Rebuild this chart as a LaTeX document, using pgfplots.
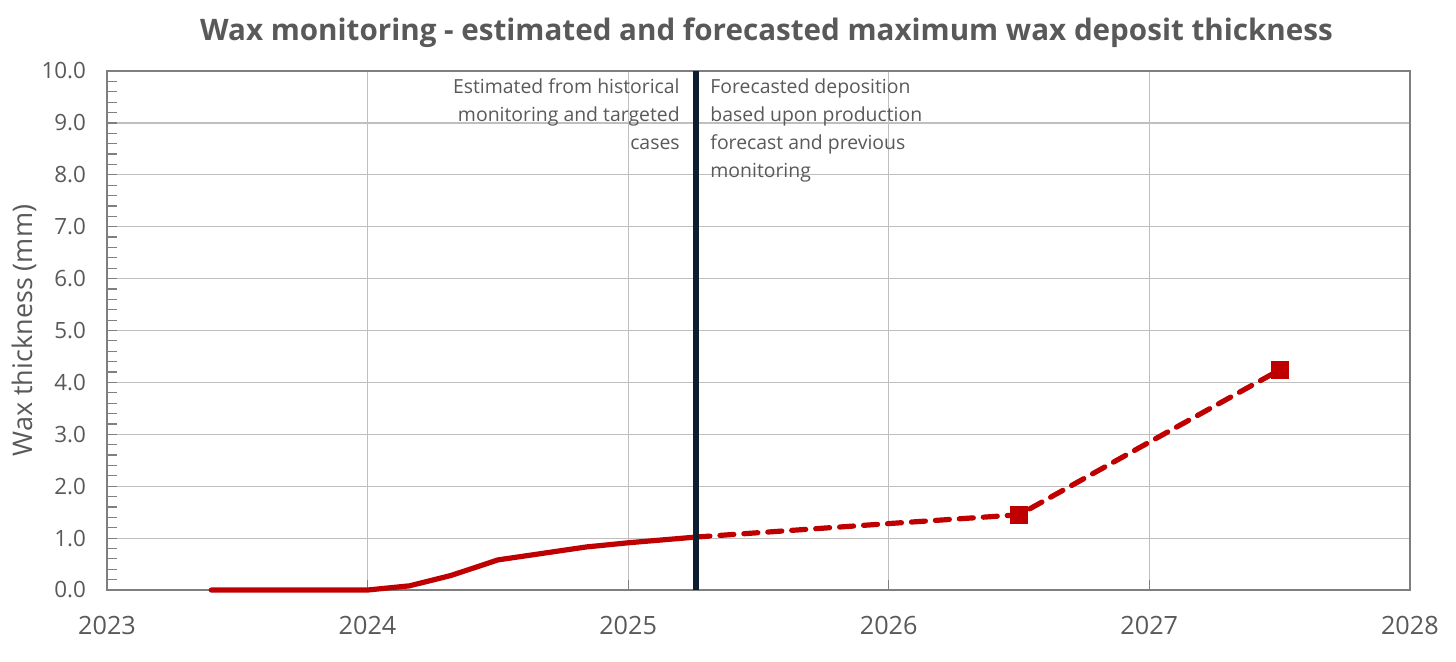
\documentclass[border=0pt]{standalone}
\usepackage{pgfplots}
\pgfplotsset{compat=1.18}
\usepackage{fontspec}
\setmainfont{Open Sans}
\definecolor{txtgray}{HTML}{595959}
\definecolor{gridgray}{HTML}{BFBFBF}
\definecolor{axgray}{HTML}{7F7F7F}
\definecolor{wred}{HTML}{C00000}
\definecolor{navy}{HTML}{0C1E2F}

\begin{document}
\begin{tikzpicture}
\useasboundingbox (0,0) rectangle (728pt,330.5pt);
\begin{axis}[
  at={(53.5pt,35.5pt)}, anchor=south west,
  scale only axis,
  width=651.5pt, height=259.5pt,
  xmin=2023, xmax=2028,
  ymin=0, ymax=10,
  xtick={2023,2024,...,2028},
  ytick={0,1,...,10},
  minor x tick num=4,
  minor y tick num=4,
  xmajorgrids, ymajorgrids,
  major grid style={gridgray, line width=0.6pt},
  axis line style={axgray, line width=0.7pt},
  tick style={axgray, line width=0.6pt},
  major tick length=5pt,
  minor tick length=5pt,
  tick align=inside,
  xtick pos=bottom, ytick pos=left,
  /pgf/number format/assume math mode=true,
  xticklabel style={/pgf/number format/set thousands separator={}, font=\fontsize{12.6}{14}\selectfont, text=txtgray, yshift=-9.5pt},
  yticklabel style={/pgf/number format/fixed, /pgf/number format/fixed zerofill, /pgf/number format/precision=1, font=\fontsize{11.2}{13}\selectfont, text=txtgray, xshift=-7pt},
  clip=false,
]
% estimated (historical)
\addplot[wred, line width=2.6pt, line join=round, line cap=round] coordinates {
  (2023.40,0.00) (2023.70,0.00) (2024.00,0.00) (2024.16,0.08) (2024.32,0.28)
  (2024.50,0.58) (2024.84,0.83) (2025.00,0.91) (2025.26,1.02)
};
% forecast
\addplot[wred, line width=2.6pt, line cap=round, dash pattern=on 7pt off 5pt] coordinates {
  (2025.26,1.02) (2026.00,1.28) (2026.50,1.45) (2027.00,2.85) (2027.50,4.24)
};
\addplot[only marks, mark=square*, mark size=4.3pt, mark options={wred, fill=wred}] coordinates {
  (2026.50,1.45) (2027.50,4.24)
};
% split line
\addplot[navy, line width=3pt] coordinates {(2025.26,0) (2025.26,10)};

\node[anchor=north east, align=right, inner sep=0pt, text=txtgray, font=\fontsize{9.7}{14}\selectfont]
  at ([yshift=-3.5pt]rel axis cs:0.4398,1) {Estimated from historical\\monitoring and targeted\\cases};
\node[anchor=north west, align=left, inner sep=0pt, text=txtgray, font=\fontsize{9.7}{14}\selectfont]
  at ([yshift=-3.5pt]rel axis cs:0.4628,1) {Forecasted deposition\\based upon production\\forecast and previous\\monitoring};
\node[rotate=90, text=txtgray, font=\fontsize{13.5}{16}\selectfont]
  at ([xshift=-41.5pt]rel axis cs:0,0.5) {Wax thickness (mm)};
\node[text=txtgray, font=\bfseries\fontsize{14.8}{18}\selectfont]
  at ([xshift=4pt, yshift=19pt]rel axis cs:0.5,1) {Wax monitoring - estimated and forecasted maximum wax deposit thickness};
\end{axis}
\end{tikzpicture}
\end{document}
